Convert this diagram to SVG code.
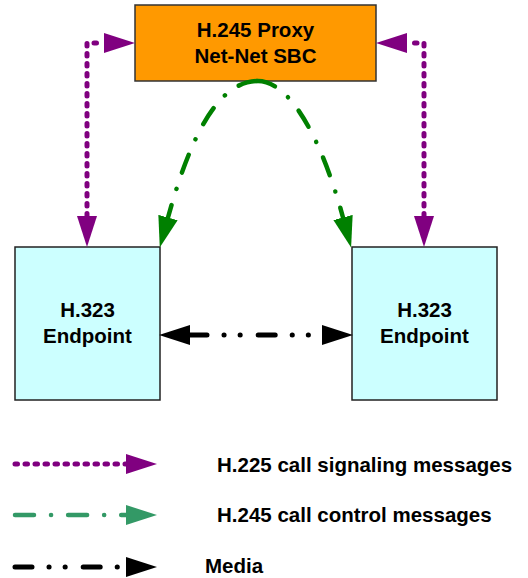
<svg xmlns="http://www.w3.org/2000/svg" width="528" height="578" viewBox="0 0 528 578">
<style>
.lbl{font-family:"Liberation Sans",Arial,sans-serif;font-weight:bold;font-size:20.5px;fill:#000}
.ctr{text-anchor:middle}
.sig{fill:none;stroke:#800080;stroke-width:5;stroke-dasharray:2.5 7.5;stroke-linecap:round}
.ctl{fill:none;stroke:#008000;stroke-width:4.5;stroke-dasharray:19 17 0.1 17;stroke-linecap:round}
.ctlL{fill:none;stroke:#339966;stroke-width:4.5;stroke-dasharray:19 17 0.1 17;stroke-linecap:round}
.med{fill:none;stroke:#000;stroke-width:5;stroke-dasharray:17 17 0.1 16 0.1 18;stroke-linecap:round}
</style>
<defs>
<marker id="ap" markerUnits="userSpaceOnUse" viewBox="0 0 31 20" markerWidth="31" markerHeight="20" refX="0" refY="10" orient="auto-start-reverse"><path d="M0,0 L31,10 L0,20 z" fill="#800080"/></marker>
<marker id="ag" markerUnits="userSpaceOnUse" viewBox="0 0 31 20" markerWidth="31" markerHeight="20" refX="0" refY="10" orient="auto-start-reverse"><path d="M0,0 L31,10 L0,20 z" fill="#008000"/></marker>
<marker id="agl" markerUnits="userSpaceOnUse" viewBox="0 0 31 20" markerWidth="31" markerHeight="20" refX="0" refY="10" orient="auto-start-reverse"><path d="M0,0 L31,10 L0,20 z" fill="#339966"/></marker>
<marker id="ak" markerUnits="userSpaceOnUse" viewBox="0 0 31 20" markerWidth="31" markerHeight="20" refX="0" refY="10" orient="auto-start-reverse"><path d="M0,0 L31,10 L0,20 z" fill="#000"/></marker>
</defs>
<g id="proxy">
<rect x="135" y="5" width="241" height="76" fill="#FF9900" stroke="#333" stroke-width="1.5"/>
<text class="lbl ctr" x="255.5" y="37">H.245 Proxy</text>
<text class="lbl ctr" x="255.5" y="63">Net-Net SBC</text>
</g>
<g id="endpoint-left">
<rect x="15" y="247" width="145" height="153" fill="#CCFFFF" stroke="#222" stroke-width="1.5"/>
<text class="lbl ctr" x="87.5" y="317">H.323</text>
<text class="lbl ctr" x="87.5" y="343">Endpoint</text>
</g>
<g id="endpoint-right">
<rect x="352" y="247" width="145" height="153" fill="#CCFFFF" stroke="#222" stroke-width="1.5"/>
<text class="lbl ctr" x="424.5" y="317">H.323</text>
<text class="lbl ctr" x="424.5" y="343">Endpoint</text>
</g>
<g id="connectors">
<path class="sig" d="M87,216 V43 H104" marker-start="url(#ap)" marker-end="url(#ap)"/>
<path class="sig" d="M424,216 V43 H407" marker-start="url(#ap)" marker-end="url(#ap)"/>
<path class="ctl" d="M257,81 C215,82 188,145 168,217.5" marker-end="url(#ag)"/>
<path class="ctl" d="M257,81 C290,80 322,140 343,217.5" marker-end="url(#ag)"/>
<path class="med" d="M190,335 H322" marker-start="url(#ak)" marker-end="url(#ak)"/>
</g>
<g id="legend">
<path class="sig" d="M15,464 H126" marker-end="url(#ap)"/>
<text class="lbl" x="217" y="472">H.225 call signaling messages</text>
<path class="ctlL" d="M15,515 H126" marker-end="url(#agl)"/>
<text class="lbl" x="217" y="522">H.245 call control messages</text>
<path class="med" d="M15,567 H126" marker-end="url(#ak)"/>
<text class="lbl" x="205" y="573">Media</text>
</g>
</svg>
